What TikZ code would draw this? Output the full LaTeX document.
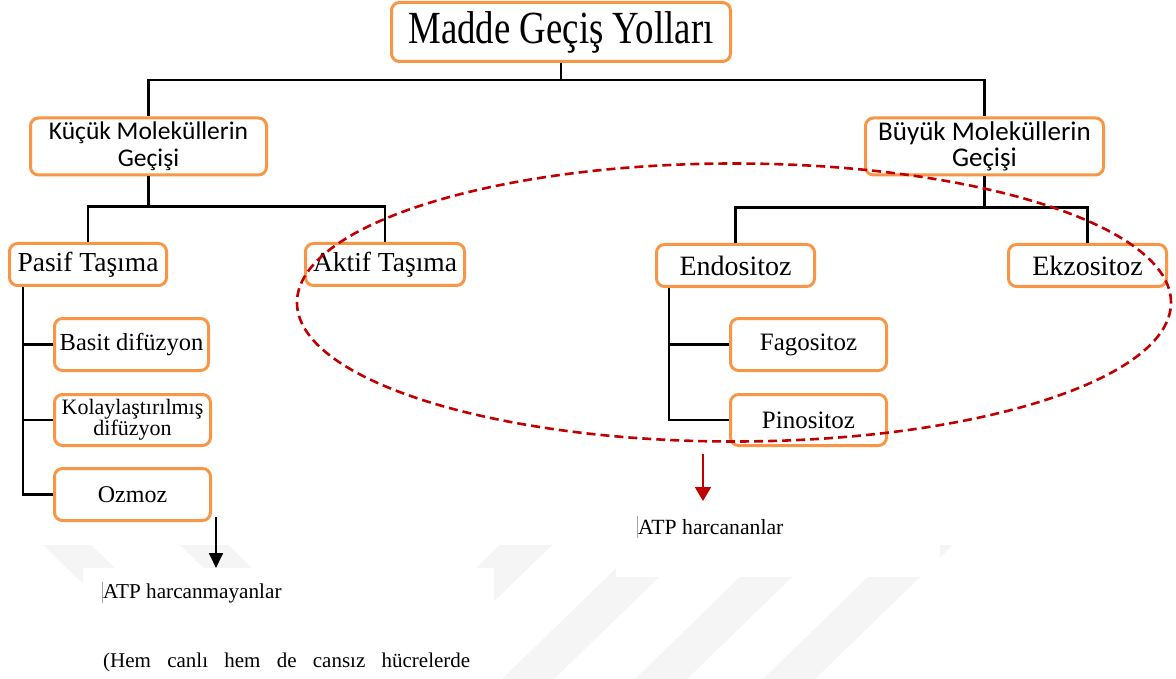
\documentclass[tikz,border=0pt]{standalone}
\usepackage{fontspec}
\setmainfont{Liberation Serif}
\newfontfamily\baslikfont[FakeStretch=0.8]{Liberation Serif}
\newfontfamily\calibrifont{Carlito}
\usetikzlibrary{calc,arrows.meta}
\definecolor{KutuTuruncu}{HTML}{F79646}
\definecolor{HalkaKirmizi}{HTML}{C00000}
\colorlet{Filigran}{black!4}

\begin{document}
\begin{tikzpicture}[x=1pt, y=-1pt,
    kutu/.style={draw=KutuTuruncu, line width=3pt, rounded corners=8pt,
      fill=white, inner sep=0pt, align=center},
    baglanti/.style={line width=2.4pt},
    siyahok/.style={line width=1.8pt, -{Triangle[length=15pt,width=14pt]}},
    kirmiziok/.style={line width=1.8pt, HalkaKirmizi, -{Triangle[length=14pt,width=16pt]}},
    imlec/.style={line width=0.5pt, black!35}]

    \useasboundingbox (0,0) rectangle (1176,679);
    \fill[white] (0,0) rectangle (1176,679);

    % filigran seritleri
    \foreach \x in {43,180}
      \fill[Filigran] (\x,545) -- ++(48,0) -- ++(138,134) -- ++(-48,0) -- cycle;
    \foreach \x in {500,640,773,901}
      \fill[Filigran] (\x,545) -- ++(52,0) -- ++(-138,134) -- ++(-52,0) -- cycle;

    % beyaz alanlar
    \node[fill=white, inner sep=0pt, minimum width=411pt, minimum height=115pt,
      anchor=north west] (atpyok) at (83,568) {};
    \node[fill=white, inner sep=0pt, minimum width=324pt, minimum height=127pt,
      anchor=south west] (atpvar) at (616,577) {};

    \node[kutu, minimum width=339pt, minimum height=59pt,
      font=\baslikfont\fontsize{46}{50}\selectfont] (baslik) at (561,32) {Madde Geçiş Yolları};

    \node[kutu, minimum width=236pt, minimum height=57pt,
      font=\calibrifont\fontsize{25.5}{27.5}\selectfont] (kucuk) at (148.5,146.5) {Küçük Moleküllerin\\Geçişi};
    \node[kutu, minimum width=238pt, minimum height=57pt,
      font=\calibrifont\fontsize{27}{26.5}\selectfont] (buyuk) at (984.5,146.5) {Büyük Moleküllerin\\Geçişi};

    \node[kutu, minimum width=157pt, minimum height=42pt,
      font=\fontsize{27.5}{30}\selectfont] (pasif) at (88,264.5) {Pasif Taşıma};
    \node[kutu, minimum width=159pt, minimum height=42pt,
      font=\fontsize{27.5}{30}\selectfont] (aktif) at (385,264.5) {Aktif Taşıma};
    \node[kutu, minimum width=158pt, minimum height=42pt,
      font=\fontsize{28}{30}\selectfont] (endo) at (735.5,265.5) {Endositoz};
    \node[kutu, minimum width=158pt, minimum height=42pt,
      font=\fontsize{28}{30}\selectfont] (ekzo) at (1087.5,265.5) {Ekzositoz};

    \node[kutu, minimum width=154pt, minimum height=52pt,
      font=\fontsize{24.5}{26}\selectfont] (basit) at (131.5,344.5) {Basit difüzyon};
    \node[kutu, minimum width=156pt, minimum height=51pt,
      font=\fontsize{22}{21}\selectfont] (kolay) at (132.5,420) {Kolaylaştırılmış\\difüzyon};
    \node[kutu, minimum width=156pt, minimum height=52pt,
      font=\fontsize{24}{26}\selectfont] (ozmoz) at (132.5,494.5) {Ozmoz};

    \node[kutu, minimum width=156pt, minimum height=52pt,
      font=\fontsize{25}{26}\selectfont] (fago) at (808.5,344.5) {Fagositoz};
    \node[kutu, minimum width=156pt, minimum height=51pt,
      font=\fontsize{25}{26}\selectfont] (pino) at (808.5,420) {Pinositoz};

    % baglantilar
    \draw[baglanti] (baslik.south) -- ++(0,17) coordinate (ust) -| (kucuk.north);
    \draw[baglanti] (ust) -| (buyuk.north);
    \draw[baglanti] (kucuk.south) -- ++(0,30) coordinate (sol) -| (pasif.north);
    \draw[baglanti] (sol) -| (aktif.north);
    \draw[baglanti] (buyuk.south) -- ++(0,31) coordinate (sag) -| (endo.north);
    \draw[baglanti] (sag) -| (ekzo.north);

    \coordinate (pgov) at ($(pasif.south west)+(15,0)$);
    \draw[baglanti] (pgov) |- (ozmoz.west);
    \draw[baglanti] (pgov |- basit.west) -- (basit.west);
    \draw[baglanti] (pgov |- kolay.west) -- (kolay.west);

    \coordinate (egov) at ($(endo.south west)+(14,0)$);
    \draw[baglanti] (egov) |- (pino.west);
    \draw[baglanti] (egov |- fago.west) -- (fago.west);

    % oklar ve yazilar
    \coordinate (ok1) at (216,517);
    \draw[siyahok] (ok1) -- (ok1 |- atpyok.north);
    \coordinate (ok2) at (703,454);
    \coordinate (ok2uc) at (703,501);
    \draw[kirmiziok] (ok2) -- (ok2uc);

    \node[anchor=base west, inner sep=0pt, font=\fontsize{21.2}{24}\selectfont]
      (yok1) at (103,598) {ATP harcanmayanlar};
    \node[anchor=base west, inner sep=0pt, font=\fontsize{21}{24}\selectfont]
      (yok2) at (103,667) {\hbox to 367pt{(Hem\hfill canlı\hfill hem\hfill de\hfill cansız\hfill hücrelerde}};
    \node[anchor=base west, inner sep=0pt, font=\fontsize{21.7}{24}\selectfont]
      (var1) at (638,534) {ATP harcananlar};
    \draw[imlec] (yok1.west) ++(-1,-11) -- ++(0,21);
    \draw[imlec] (var1.west) ++(-1,-11) -- ++(0,22);

    % halka
    \draw[HalkaKirmizi, line width=2.6pt, dash pattern=on 9pt off 5pt]
      (734,302.5) ellipse [x radius=437pt, y radius=139pt];
\end{tikzpicture}
\end{document}
